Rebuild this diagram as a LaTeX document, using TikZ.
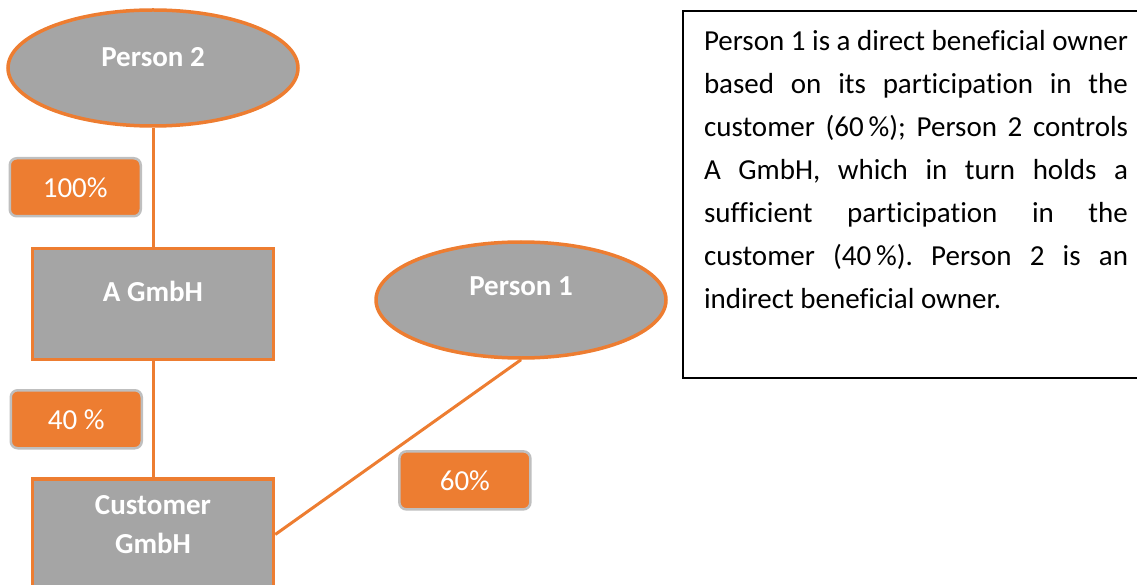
\documentclass[tikz,border=0pt]{standalone}
\usepackage{fontspec}
\setmainfont[Ligatures={NoCommon}]{Carlito}
\usetikzlibrary{positioning, shapes.geometric}
\frenchspacing

\definecolor{accent}{HTML}{ED7D31}
\definecolor{boxgray}{HTML}{A5A5A5}
\definecolor{rimgray}{HTML}{BFBFBF}

\begin{document}
\begin{tikzpicture}[x=1pt, y=-1pt,
		person/.style={ellipse, draw=accent, line width=3.5pt, fill=boxgray, text=white, font=\fontsize{29}{39}\selectfont\bfseries, minimum width=290pt, minimum height=116pt, text depth=22pt},
		firm/.style={rectangle, draw=accent, line width=3.5pt, fill=boxgray, text=white, font=\fontsize{29}{39}\selectfont\bfseries, minimum width=241pt, minimum height=111pt, align=center},
		pct/.style={rectangle, rounded corners=7pt, draw=rimgray, line width=2.5pt, fill=accent, text=white, font=\fontsize{29}{34}\selectfont, minimum width=131pt, minimum height=58pt},
		link/.style={draw=accent, line width=3pt},
		note/.style={draw=black, line width=2pt, text width=424pt, align=justify, inner xsep=21pt, inner ysep=19pt, text height=21pt, text depth=308pt, font=\fontsize{29}{43}\selectfont}]
		\useasboundingbox (0,0) rectangle (1137,585);

		\node [person] (p2) at (153,68) {Person 2};
		\node [firm, below=119pt of p2, text depth=26pt] (agmbh) {A GmbH};
		\node [firm, below=116pt of agmbh, text depth=20pt] (cust) {Customer\\GmbH};
		\node [person, text depth=28pt] (p1) at (521,300) {Person 1};

		\path[link] (p2) edge node [pct, left=11pt] (l100) {100\%} (agmbh);
		\path[link] (agmbh) edge node [pct, left=10pt] (l40) {40 \%} (cust);
		\path[link] (p1.south) edge node [pct, below right=3pt and 0pt] (l60) {60\%} (cust.east);

		\node [note, anchor=north west] (expl) at (682,10) {Person 1 is a direct beneficial owner\linebreak based on its participation in the\linebreak customer (60\,\%); Person 2 controls\linebreak A GmbH, which in turn holds a\linebreak sufficient participation in the\linebreak customer (40\,\%). Person 2 is an\linebreak indirect beneficial owner.};
	\end{tikzpicture}
\end{document}
